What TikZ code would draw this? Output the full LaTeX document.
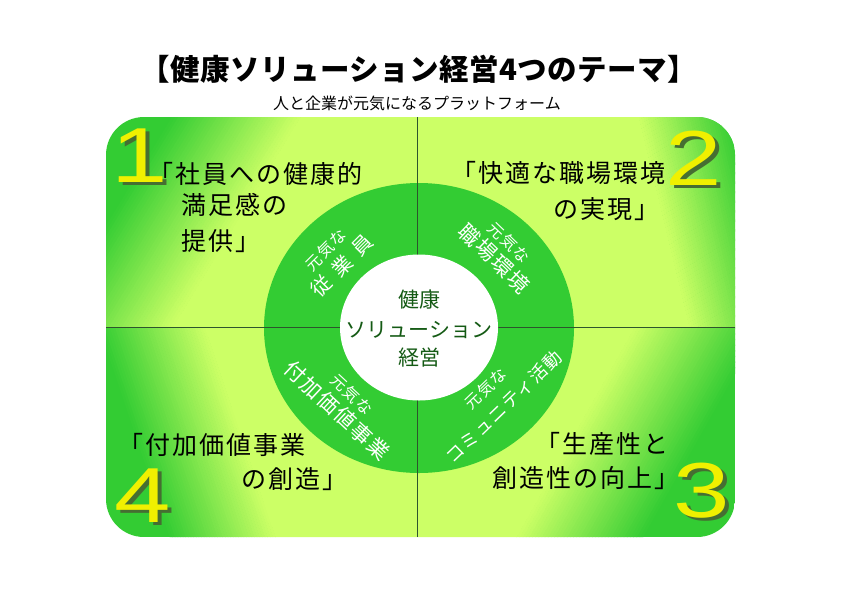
\documentclass[tikz,border=0pt]{standalone}
\usepackage{fontspec}
\newfontfamily\jp{Noto Sans CJK JP}
\newfontfamily\jpt{Noto Sans CJK JP}[LetterSpace=1.5]
\newfontfamily\jpq{Noto Sans CJK JP}[LetterSpace=8]
\newfontfamily\jpwide{Noto Sans CJK JP}[LetterSpace=45]
\newfontfamily\digitfont{Liberation Sans}
\definecolor{qgreen}{RGB}{51,204,51}
\definecolor{qlight}{RGB}{204,255,102}
\definecolor{ringgreen}{RGB}{51,204,51}
\definecolor{linecol}{RGB}{45,85,45}
\definecolor{dyellow}{RGB}{240,240,0}
\definecolor{dshadow}{RGB}{70,110,50}
\definecolor{ctext}{RGB}{20,90,20}
\newcommand\quadgrad[8]{%
\begin{scope}
\clip[rounded corners=38pt] (106,117) rectangle (735,537);
\clip (#1,#2) rectangle (#3,#4);
\fill[qgreen] (#1,#2) rectangle (#3,#4);
\pgfmathsetmacro\qux{#7-#5}\pgfmathsetmacro\quy{#6-#8}%
\pgfmathsetmacro\qvx{#6-#8}\pgfmathsetmacro\qvy{#5-#7}%
\begin{scope}[shift={(#5,#6)}, x={(\qux pt,\quy pt)}, y={(\qvx pt,\qvy pt)}]
\foreach \i in {0,...,39}{%
 \pgfmathsetmacro\ta{\i/40}\pgfmathsetmacro\tb{(\i+1)/40+0.004}%
 \pgfmathtruncatemacro\pc{100-(\i+0.5)*2.5}%
 \fill[qgreen!\pc!qlight] (\ta,-12) -- (\tb,-12) -- (\tb,12) -- (\ta,12) -- cycle;}
\fill[qlight] (1,-12) -- (12,-12) -- (12,12) -- (1,12) -- cycle;
\end{scope}
\end{scope}}
\newcommand\shadowdigit[1]{\rlap{\hspace{3pt}\raisebox{-3pt}{\color{dshadow}#1}}{\color{dyellow}#1}}
\newcommand\ringsmall{\jpq\fontsize{16}{16}\selectfont}
\begin{document}
\begin{tikzpicture}[x=1pt,y=-1pt,
 qtext/.style={font=\jpq\fontsize{25}{25}\selectfont, anchor=west, inner sep=0pt, text=black},
 ringnode/.style={align=center, text=white, inner sep=0pt},
 ctr/.style={font=\jp\fontsize{21}{21}\selectfont, text=ctext, inner sep=0pt},
 digit/.style={font=\digitfont\fontsize{78}{78}\selectfont, inner sep=0pt, xscale=1.3},
 divline/.style={draw=linecol, line width=1pt}]
\useasboundingbox (0,0) rectangle (842,595);
\fill[white] (0,0) rectangle (842,595);
% quadrants
\quadgrad{106}{117}{417}{327}{147}{158}{241}{215}
\quadgrad{417}{117}{735}{327}{744}{171}{657}{192}
\quadgrad{417}{327}{735}{537}{672}{486}{576}{432}
\quadgrad{106}{327}{417}{537}{145}{464}{240}{432}
% ring
\fill[ringgreen] (419,328) ellipse [x radius=155, y radius=145];
% dividing lines
\coordinate (vt) at (417,117); \coordinate (vb) at (417,537);
\coordinate (hl) at (106,327); \coordinate (hr) at (735,327);
\draw[divline] (vt) -- (vb);
\draw[divline] (hl) -- (hr);
% centre
\fill[white] (419,327.5) ellipse [x radius=79, y radius=73];
\node[ctr] (c1) at (419,300) {健康};
\node[ctr] (c2) at (419,330) {ソリューション};
\node[ctr] (c3) at (419,358) {経営};
% ring texts
\node[ringnode, font=\jpwide\fontsize{20}{24}\selectfont, rotate=45] (r1) at (334.5,258.5) {{\ringsmall 元気な}\\従業員};
\node[ringnode, font=\jpq\fontsize{21}{23}\selectfont, rotate=-44] (r2) at (501,251.5) {{\ringsmall 元気な}\\職場環境};
\node[ringnode, font=\jpq\fontsize{21}{23.5}\selectfont, rotate=-43] (r4) at (343.5,403.5) {{\ringsmall 元気な}\\付加価値事業};
\node[ringnode, font=\jpq\fontsize{18}{26}\selectfont, rotate=44] (r3) at (495,398) {{\ringsmall 元気な}\\コミュニティ活動};
% quadrant texts
\node[qtext] (q1a) at (148,174) {「社員への健康的};
\node[qtext] (q1b) at (181,205) {満足感の};
\node[qtext] (q1c) at (181,241) {提供」};
\node[qtext] (q2a) at (451,173) {「快適な職場環境};
\node[qtext] (q2b) at (553,209) {の実現」};
\node[qtext] (q3a) at (535,444) {「生産性と};
\node[qtext] (q3b) at (492,478) {創造性の向上」};
\node[qtext] (q4a) at (118,445) {「付加価値事業};
\node[qtext] (q4b) at (241,479) {の創造」};
% digits
\node[digit] (d1) at (140,157) {\shadowdigit{1}};
\node[digit] (d2) at (694,160) {\shadowdigit{2}};
\node[digit] (d3) at (702,492) {\shadowdigit{3}};
\node[digit] (d4) at (143,497) {\shadowdigit{4}};
% titles
\node[font=\jpt\bfseries\fontsize{29.5}{29.5}\selectfont, inner sep=0pt] (title) at (419,69) {【健康ソリューション経営4つのテーマ】};
\node[font=\jp\fontsize{16}{16}\selectfont, inner sep=0pt] (sub) at (417,103) {人と企業が元気になるプラットフォーム};
\end{tikzpicture}
\end{document}
